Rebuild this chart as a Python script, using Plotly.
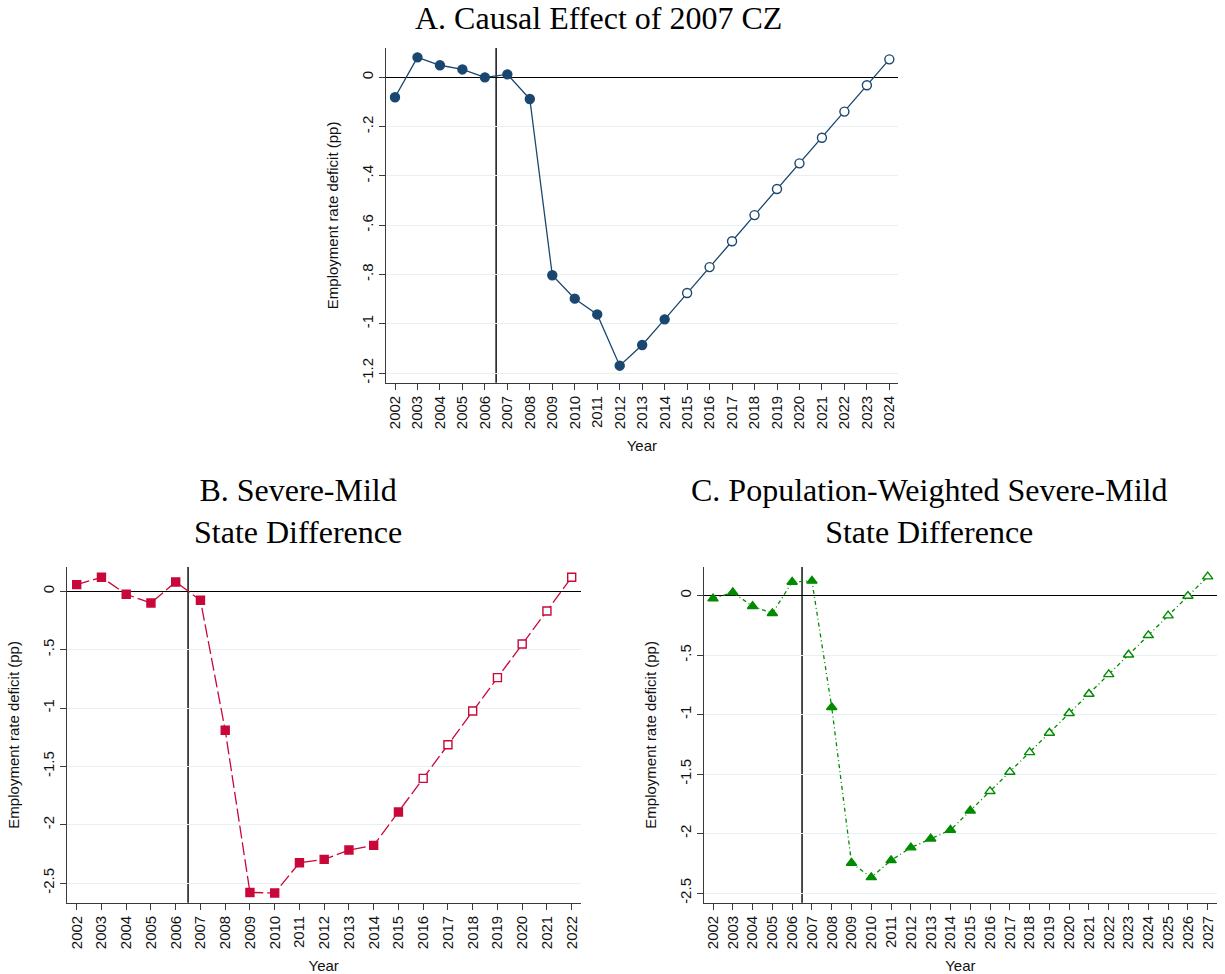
import plotly.graph_objects as go

# ---------------- data ----------------
years_a = [2002, 2003, 2004, 2005, 2006, 2007, 2008, 2009, 2010, 2011, 2012, 2013,
           2014, 2015, 2016, 2017, 2018, 2019, 2020, 2021, 2022, 2023, 2024]
deficit_a = [-0.081, 0.081, 0.049, 0.032, 0.000, 0.012, -0.088, -0.803, -0.898, -0.962,
             -1.170, -1.086, -0.982, -0.875, -0.770, -0.665, -0.559, -0.453, -0.349,
             -0.245, -0.139, -0.032, 0.073]
last_observed_a = 2014

years_b = [2002, 2003, 2004, 2005, 2006, 2007, 2008, 2009, 2010, 2011, 2012, 2013,
           2014, 2015, 2016, 2017, 2018, 2019, 2020, 2021, 2022]
deficit_b = [0.057, 0.120, -0.026, -0.100, 0.080, -0.077, -1.190, -2.580, -2.585, -2.326,
             -2.297, -2.217, -2.177, -1.891, -1.603, -1.315, -1.026, -0.740, -0.452,
             -0.169, 0.120]
last_observed_b = 2015

years_c = [2002, 2003, 2004, 2005, 2006, 2007, 2008, 2009, 2010, 2011, 2012, 2013,
           2014, 2015, 2016, 2017, 2018, 2019, 2020, 2021, 2022, 2023, 2024, 2025,
           2026, 2027]
deficit_c = [-0.025, 0.028, -0.089, -0.148, 0.115, 0.124, -0.938, -2.246, -2.367, -2.224,
             -2.117, -2.042, -1.969, -1.807, -1.644, -1.482, -1.317, -1.154, -0.988,
             -0.826, -0.661, -0.496, -0.333, -0.168, -0.003, 0.160]
last_observed_c = 2015

treatment_line = 2006.5

yticks_a = [0, -0.2, -0.4, -0.6, -0.8, -1.0, -1.2]
yticklabels_a = ["0", "-.2", "-.4", "-.6", "-.8", "-1", "-1.2"]
yticks_bc = [0, -0.5, -1.0, -1.5, -2.0, -2.5]
yticklabels_bc = ["0", "-.5", "-1", "-1.5", "-2", "-2.5"]

title_a = "A. Causal Effect of 2007 CZ"
title_b = "B. Severe-Mild<br>State Difference"
title_c = "C. Population-Weighted Severe-Mild<br>State Difference"
ytitle = "Employment rate deficit (pp)"
xtitle = "Year"

# ---------------- styling ----------------
W, H = 1225, 974
SANS = "Liberation Sans, Arial, sans-serif"
SERIF = "Liberation Serif, Times New Roman, serif"
GRID = "#E8F0F2"
AXIS = "#3a3a3a"

navy = "#1A476F"
crimson = "#C8083A"
green = "#008B00"

fig = go.Figure()


def px_x(p):
    return p / W


def px_y(p):
    return 1 - p / H


panels = [
    ("", years_a, deficit_a, last_observed_a, navy, "circle", "solid",
     (385.7, 898), (48, 382.7), (2001.586, 2024.385), (-1.239, 0.119),
     yticks_a, yticklabels_a, 9),
    ("2", years_b, deficit_b, last_observed_b, crimson, "square", "13px,4px",
     (66.7, 580.7), (567, 902.7), (2001.596, 2022.364), (-2.668, 0.208),
     yticks_bc, yticklabels_bc, 8),
    ("3", years_c, deficit_c, last_observed_c, green, "triangle-up", "4px,3px,1px,3px",
     (703.7, 1217), (567, 902.7), (2001.53, 2027.47), (-2.58, 0.241),
     yticks_bc, yticklabels_bc, 9),
]

layout_axes = {}
shapes = []
for key, yrs, vals, last_obs, col, sym, dash, xd, yd, xr, yr, yt, ytl, msize in panels:
    xa = "x" + key
    ya = "y" + key
    fill = [col if y <= last_obs else "white" for y in yrs]
    fig.add_trace(go.Scatter(
        x=yrs, y=vals, mode="lines+markers", xaxis=xa, yaxis=ya,
        line=dict(color=col, width=1.3, dash=dash),
        marker=dict(symbol=sym, size=msize, color=fill,
                    line=dict(color=col, width=1.4)),
        showlegend=False, cliponaxis=False,
    ))
    xname = "xaxis" + key
    yname = "yaxis" + key
    layout_axes[xname] = dict(
        domain=[px_x(xd[0]), px_x(xd[1])], range=list(xr), anchor=ya,
        tickmode="array", tickvals=yrs, ticktext=[str(y) for y in yrs],
        tickangle=-90, ticks="outside", ticklen=6, tickcolor=AXIS, tickwidth=1,
        showline=True, linecolor=AXIS, linewidth=1.2, showgrid=False, zeroline=False,
        tickfont=dict(family=SANS, size=15, color="#111"),
        title=dict(text=xtitle, font=dict(family=SANS, size=15, color="#111"), standoff=12),
    )
    layout_axes[yname] = dict(
        domain=[px_y(yd[1]), px_y(yd[0])], range=list(yr), anchor=xa,
        tickmode="array", tickvals=yt, ticktext=ytl,
        tickangle=-90, ticks="outside", ticklen=6, tickcolor=AXIS, tickwidth=1,
        showline=True, linecolor=AXIS, linewidth=1.2,
        showgrid=True, gridcolor=GRID, gridwidth=1.2,
        zeroline=True, zerolinecolor="black", zerolinewidth=1.4,
        tickfont=dict(family=SANS, size=15, color="#111"),
        title=dict(text=ytitle, font=dict(family=SANS, size=15, color="#111"), standoff=16),
    )
    shapes.append(dict(type="line", xref=xa, yref=ya + " domain", x0=treatment_line,
                       x1=treatment_line, y0=0, y1=1,
                       line=dict(color="black", width=1.4), layer="below"))

annotations = [
    dict(text=title_a, x=px_x(598), y=px_y(18), xref="paper", yref="paper",
         xanchor="center", yanchor="middle", showarrow=False,
         font=dict(family=SERIF, size=32, color="black")),
    dict(text=title_b, x=px_x(298), y=px_y(511), xref="paper", yref="paper",
         xanchor="center", yanchor="middle", showarrow=False,
         font=dict(family=SERIF, size=32, color="black")),
    dict(text=title_c, x=px_x(929), y=px_y(511), xref="paper", yref="paper",
         xanchor="center", yanchor="middle", showarrow=False,
         font=dict(family=SERIF, size=32, color="black")),
]

fig.update_layout(
    width=W, height=H, margin=dict(l=0, r=0, t=0, b=0),
    paper_bgcolor="white", plot_bgcolor="white",
    shapes=shapes, annotations=annotations, **layout_axes,
)

fig.write_html("out.html")
